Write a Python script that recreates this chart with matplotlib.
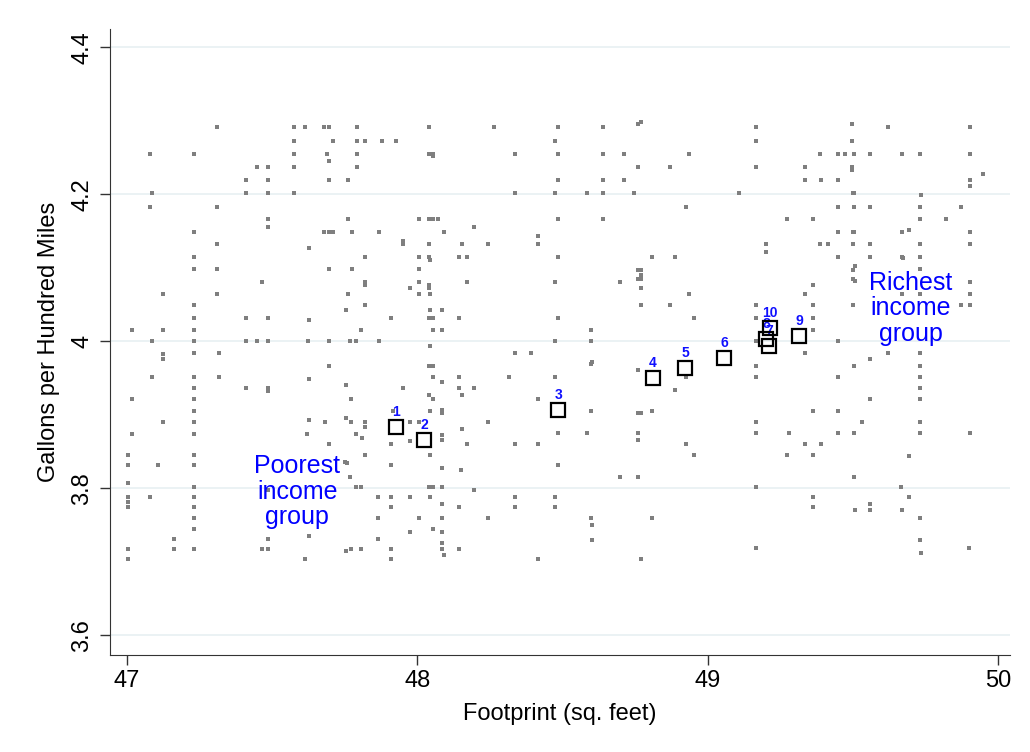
import matplotlib.pyplot as plt

plt.rcParams['font.family'] = ['Liberation Sans', 'DejaVu Sans']

# gray scatter: footprint (x) and gallons per hundred miles (y), read row by row
footprint = [
    47.309, 47.574, 47.613, 47.680, 47.695, 47.791,
    47.574, 47.709, 47.791, 47.819, 47.879, 47.926,
    47.078, 47.230, 47.574, 47.688, 47.791, 47.695,
    47.447, 47.486, 47.574, 47.791,
    47.408, 47.486, 47.695, 47.762,
    47.085, 47.408, 47.486, 47.574,
    47.078, 47.309,
    47.486, 47.762, 48.006,
    47.486,
    48.039, 48.263, 48.486, 48.639, 48.759, 48.771,
    48.475,
    48.039, 48.053, 48.053, 48.338, 48.486, 48.639, 48.713, 48.937,
    48.759, 48.869,
    48.486, 48.639, 48.713,
    48.338, 48.475, 48.586, 48.639, 48.745,
    48.926,
    48.039, 48.053, 48.071, 48.486, 48.639,
    48.195,
    49.168, 49.497, 49.621, 49.903,
    49.168, 49.497,
    49.388, 49.448, 49.472, 49.504, 49.558, 49.669, 49.732, 49.903,
    49.168, 49.334, 49.497, 49.497,
    49.334, 49.391, 49.448,
    49.949, 49.905, 49.905,
    49.107, 49.500, 49.504, 49.734,
    49.448, 49.504, 49.558, 49.732, 49.873,
    49.273, 49.363, 49.732, 49.820,
    47.230, 47.680, 47.695, 47.709, 47.774, 47.869,
    47.309, 47.628, 47.951, 47.951,
    47.230, 47.819, 48.006,
    47.230, 47.309, 47.695, 47.774, 48.006,
    47.464, 47.819, 47.819, 48.006,
    47.124, 47.309, 47.762, 47.975, 48.006,
    47.230, 47.755, 47.819,
    47.230, 47.408, 47.486, 47.628, 47.910,
    47.017, 47.124, 47.230, 47.806,
    47.085, 47.230, 47.408, 47.447, 47.486, 47.622, 47.695, 47.769, 47.790, 47.869,
    48.092,
    48.415, 48.415,
    48.039, 48.153, 48.245,
    48.039, 48.043, 48.145, 48.170,
    48.486, 48.809, 48.888,
    48.759, 48.770, 48.759, 48.770, 48.770,
    48.039, 48.039, 48.170, 48.475, 48.698, 48.770,
    48.043, 48.937,
    48.770, 48.869,
    48.043, 48.085,
    48.039, 48.053, 48.145, 48.486, 48.954,
    48.053, 48.085, 48.599,
    48.475, 48.599,
    49.448, 49.500, 49.504, 49.669, 49.693, 49.903,
    49.202, 49.202, 49.388, 49.416, 49.500, 49.558, 49.732, 49.903,
    49.448, 49.558, 49.669, 49.673, 49.732,
    49.509, 49.500, 49.732,
    49.500, 49.509, 49.362, 49.903,
    49.334, 49.669, 49.732, 49.903,
    49.168, 49.362, 49.500, 49.873, 49.903,
    49.168, 49.362,
    49.362,
    49.168, 49.448,
    47.124, 47.124,
    47.230, 47.316,
    47.695,
    47.085, 47.230, 47.316, 47.628,
    47.230, 47.408, 47.486, 47.486, 47.755, 47.951,
    47.017, 47.230, 47.773,
    47.230, 47.916,
    47.124, 47.230, 47.628, 47.681, 47.755, 47.773, 47.819, 47.819, 47.975, 48.006,
    47.017, 47.230, 47.620, 47.790, 47.808,
    47.695, 47.910, 47.975,
    47.002, 47.230, 47.819,
    48.043,
    48.338, 48.391,
    48.039, 48.053, 48.599, 48.603,
    48.053, 48.145, 48.315, 48.475, 48.926,
    48.085, 48.759,
    48.145, 48.195, 48.153,
    48.039, 48.053, 48.415, 48.888,
    48.043, 48.085, 48.085, 48.599, 48.759, 48.770, 48.809,
    48.245, 48.153,
    48.085, 48.085,
    48.486, 48.586, 48.759, 48.759,
    48.170, 48.338, 48.415, 48.926,
    48.043, 48.954,
    49.334, 49.558, 49.621, 49.732,
    49.168, 49.504, 49.732,
    49.168, 49.448, 49.732,
    49.732,
    49.558, 49.732,
    49.363, 49.448,
    49.168, 49.533, 49.732,
    49.168, 49.280, 49.448, 49.504, 49.732, 49.905,
    49.334, 49.391,
    49.273, 49.363, 49.693,
    47.002, 47.106, 47.230,
    47.002, 47.230,
    47.002, 47.002, 47.002, 47.078,
    47.230, 47.230, 47.230, 47.230,
    47.163, 47.163, 47.002, 47.002, 47.230,
    47.486, 47.464, 47.486, 47.628, 47.613,
    47.749, 47.757, 47.769, 47.790, 47.806,
    47.866, 47.910, 47.975, 47.910,
    47.866, 48.006, 47.975, 47.866,
    47.755, 47.773, 47.806, 47.910, 47.910,
    47.486, 47.910,
    48.085, 48.152, 48.486, 48.698, 48.759,
    48.039, 48.053, 48.085, 48.195,
    48.043, 48.338, 48.475, 48.085,
    48.145, 48.338, 48.475,
    48.085, 48.245, 48.599, 48.809,
    48.603, 48.053, 48.085, 48.603, 48.085,
    48.085, 48.145, 48.092, 48.415, 48.770,
    49.504, 49.168, 49.667, 49.363, 49.693,
    49.363, 49.508, 49.558, 49.558, 49.671,
    49.732, 49.732, 49.168, 49.901, 49.735,
]
gallons = [
    4.292, 4.292, 4.292, 4.292, 4.292, 4.292,
    4.273, 4.273, 4.273, 4.273, 4.273, 4.273,
    4.255, 4.255, 4.255, 4.255, 4.255, 4.246,
    4.237, 4.237, 4.237, 4.237,
    4.219, 4.219, 4.219, 4.219,
    4.202, 4.202, 4.202, 4.202,
    4.183, 4.183,
    4.166, 4.166, 4.166,
    4.156,
    4.292, 4.292, 4.292, 4.292, 4.296, 4.298,
    4.273,
    4.255, 4.255, 4.252, 4.255, 4.255, 4.255, 4.255, 4.255,
    4.237, 4.237,
    4.219, 4.219, 4.219,
    4.202, 4.202, 4.202, 4.202, 4.202,
    4.183,
    4.166, 4.166, 4.166, 4.166, 4.166,
    4.156,
    4.292, 4.296, 4.292, 4.292,
    4.273, 4.273,
    4.255, 4.255, 4.255, 4.255, 4.255, 4.255, 4.255, 4.255,
    4.237, 4.237, 4.237, 4.233,
    4.219, 4.219, 4.219,
    4.228, 4.219, 4.211,
    4.202, 4.202, 4.202, 4.199,
    4.183, 4.183, 4.183, 4.183, 4.183,
    4.166, 4.166, 4.166, 4.166,
    4.149, 4.149, 4.149, 4.149, 4.149, 4.149,
    4.132, 4.127, 4.137, 4.132,
    4.115, 4.115, 4.115,
    4.098, 4.098, 4.098, 4.098, 4.098,
    4.081, 4.081, 4.076, 4.081,
    4.064, 4.064, 4.064, 4.072, 4.064,
    4.049, 4.042, 4.049,
    4.032, 4.032, 4.032, 4.029, 4.032,
    4.015, 4.015, 4.015, 4.015,
    4.000, 4.000, 4.000, 4.000, 4.000, 4.000, 4.000, 4.000, 4.000, 4.000,
    4.149,
    4.143, 4.132,
    4.132, 4.132, 4.132,
    4.115, 4.110, 4.115, 4.115,
    4.115, 4.115, 4.115,
    4.097, 4.097, 4.085, 4.090, 4.085,
    4.076, 4.073, 4.081, 4.081, 4.081, 4.073,
    4.064, 4.064,
    4.050, 4.050,
    4.042, 4.042,
    4.032, 4.032, 4.032, 4.032, 4.032,
    4.015, 4.015, 4.015,
    4.000, 4.000,
    4.149, 4.149, 4.149, 4.149, 4.151, 4.149,
    4.132, 4.121, 4.132, 4.132, 4.132, 4.132, 4.132, 4.132,
    4.115, 4.115, 4.115, 4.113, 4.115,
    4.102, 4.097, 4.098,
    4.085, 4.082, 4.076, 4.081,
    4.064, 4.064, 4.064, 4.064,
    4.049, 4.049, 4.049, 4.049, 4.049,
    4.032, 4.032,
    4.015,
    4.000, 4.000,
    3.982, 3.976,
    3.984, 3.984,
    3.967,
    3.952, 3.952, 3.952, 3.949,
    3.936, 3.936, 3.936, 3.932, 3.940, 3.936,
    3.921, 3.921, 3.921,
    3.905, 3.905,
    3.890, 3.890, 3.893, 3.890, 3.896, 3.890, 3.890, 3.884, 3.890, 3.890,
    3.874, 3.874, 3.874, 3.874, 3.868,
    3.860, 3.860, 3.864,
    3.845, 3.845, 3.845,
    3.993,
    3.984, 3.984,
    3.967, 3.967, 3.969, 3.972,
    3.952, 3.952, 3.952, 3.952, 3.952,
    3.945, 3.961,
    3.936, 3.936, 3.927,
    3.927, 3.921, 3.921, 3.933,
    3.905, 3.907, 3.902, 3.905, 3.902, 3.902, 3.905,
    3.890, 3.880,
    3.873, 3.865,
    3.875, 3.875, 3.875, 3.866,
    3.860, 3.860, 3.860, 3.860,
    3.845, 3.845,
    3.984, 3.976, 3.984, 3.984,
    3.967, 3.967, 3.967,
    3.952, 3.952, 3.952,
    3.936,
    3.921, 3.921,
    3.905, 3.905,
    3.890, 3.890, 3.890,
    3.875, 3.875, 3.875, 3.875, 3.875, 3.875,
    3.860, 3.860,
    3.845, 3.845, 3.844,
    3.831, 3.831, 3.831,
    3.807, 3.802,
    3.788, 3.781, 3.775, 3.788,
    3.788, 3.774, 3.759, 3.744,
    3.731, 3.717, 3.717, 3.703, 3.717,
    3.731, 3.717, 3.717, 3.735, 3.703,
    3.836, 3.835, 3.815, 3.802, 3.802,
    3.788, 3.788, 3.788, 3.774,
    3.759, 3.759, 3.741, 3.731,
    3.714, 3.717, 3.717, 3.717, 3.703,
    3.798, 3.831,
    3.828, 3.825, 3.831, 3.815, 3.815,
    3.802, 3.802, 3.802, 3.797,
    3.788, 3.788, 3.788, 3.779,
    3.774, 3.774, 3.774,
    3.759, 3.759, 3.759, 3.759,
    3.750, 3.744, 3.741, 3.730, 3.726,
    3.717, 3.717, 3.709, 3.703, 3.703,
    3.815, 3.802, 3.802, 3.788, 3.788,
    3.774, 3.771, 3.778, 3.771, 3.771,
    3.759, 3.730, 3.718, 3.718, 3.712,
]

# income group means (hollow squares)
group_labels = ['1', '2', '3', '4', '5', '6', '7', '8', '9', '10']
group_foot = [47.927, 48.023, 48.485, 48.812, 48.922, 49.057, 49.211, 49.201, 49.315, 49.215]
group_gal = [3.883, 3.865, 3.906, 3.950, 3.963, 3.977, 3.993, 4.003, 4.007, 4.018]

y_ticks = [3.6, 3.8, 4.0, 4.2, 4.4]
y_ticklabels = ['3.6', '3.8', '4', '4.2', '4.4']
x_ticks = [47, 48, 49, 50]

fig = plt.figure(figsize=(10.3, 7.52), dpi=100)
ax = fig.add_axes([0.1068, 0.129, 0.8738, 0.8324])

for yt in y_ticks:
    ax.axhline(yt, color='#e9f1f3', lw=1.3, zorder=0)

ax.scatter(footprint, gallons, s=5, marker='s', color='#7f7f7f', linewidths=0, zorder=2)

# 7 sits under the box of 8 in the original, so it is drawn first and covered
for lab, x, y in zip(group_labels, group_foot, group_gal):
    ax.annotate(lab, (x, y), xytext=(0, 6), textcoords='offset points',
                ha='center', va='bottom', color='#1010ff', fontsize=10,
                fontweight='bold', zorder=3)
ax.plot(group_foot, group_gal, ls='none', marker='s', ms=10.5, mfc='none',
        mec='black', mew=1.6, zorder=4)

ax.text(47.586, 3.795, 'Poorest\nincome\ngroup', color='#0000ff', fontsize=18,
        ha='center', va='center', linespacing=1.08, zorder=5)
ax.text(49.70, 4.045, 'Richest\nincome\ngroup', color='#0000ff', fontsize=18,
        ha='center', va='center', linespacing=1.08, zorder=5)

ax.set_xlim(46.941, 50.042)
ax.set_ylim(3.573, 4.425)
ax.set_xticks(x_ticks)
ax.set_yticks(y_ticks)
ax.set_yticklabels(y_ticklabels, rotation=90, va='center')
ax.tick_params(axis='both', labelsize=17, length=7, width=1, color='#333333')
ax.tick_params(axis='y', pad=5)
for s in ['top', 'right']:
    ax.spines[s].set_visible(False)
for s in ['left', 'bottom']:
    ax.spines[s].set_color('#333333')
ax.set_xlabel('Footprint (sq. feet)', fontsize=17, labelpad=8)
ax.set_ylabel('Gallons per Hundred Miles', fontsize=17, labelpad=8)

fig.savefig('out.png', dpi=100)
